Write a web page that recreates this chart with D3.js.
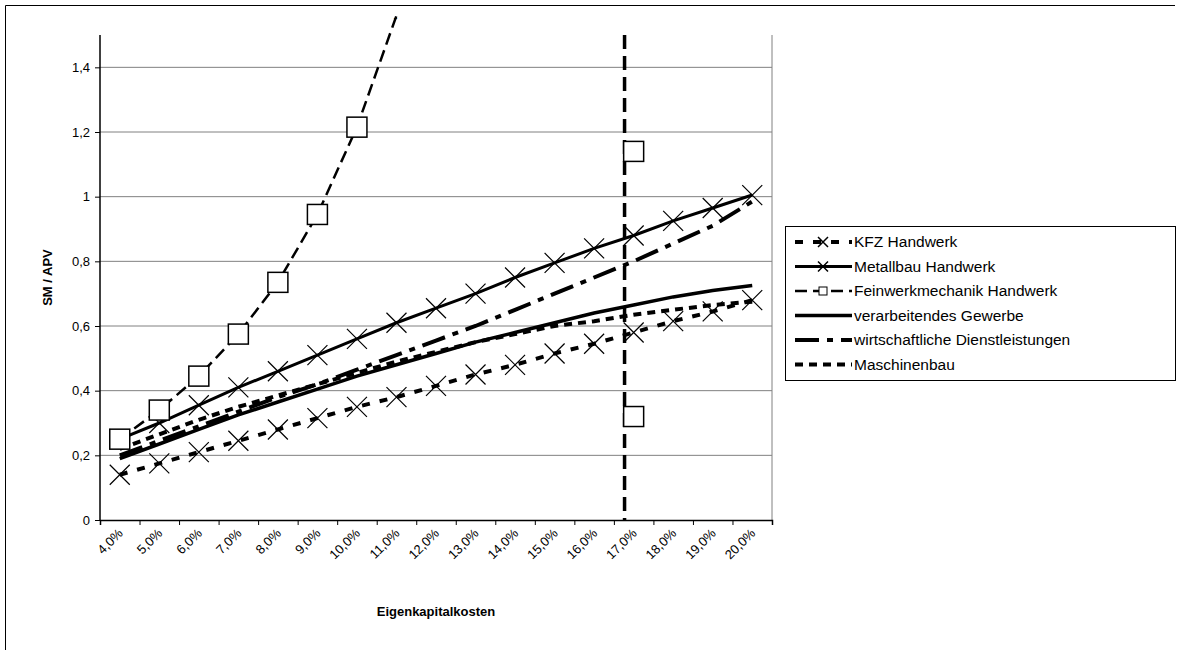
<!DOCTYPE html>
<html><head><meta charset="utf-8">
<script src="https://cdn.jsdelivr.net/npm/d3@7"></script>
<style>body{margin:0;background:#fff}svg{font-family:"Liberation Sans",Arial,sans-serif}</style>
</head><body><svg id="c" width="1179" height="650"></svg>
<script>
const categories = ['4,0%','5,0%','6,0%','7,0%','8,0%','9,0%','10,0%','11,0%','12,0%','13,0%','14,0%','15,0%','16,0%','17,0%','18,0%','19,0%','20,0%'];
const yTicks = [0, 0.2, 0.4, 0.6, 0.8, 1, 1.2, 1.4];
const kfz = [0.14,0.175,0.21,0.245,0.28,0.315,0.35,0.38,0.415,0.45,0.48,0.515,0.545,0.58,0.615,0.645,0.68];
const metallbau = [0.25,0.30,0.355,0.41,0.46,0.51,0.56,0.61,0.655,0.70,0.75,0.795,0.84,0.88,0.925,0.965,1.005];
const feinwerk = [0.25,0.34,0.445,0.575,0.735,0.945,1.215,1.56];
const feinwerkLate = [1.14, 0.32];      // squares at 17,0%
const feinwerkLateCat = '17,0%';
const feinwerkPole = 12.77;              // category index of the vertical jump
const verarbeitend = [0.19,0.235,0.28,0.325,0.365,0.405,0.445,0.48,0.515,0.55,0.58,0.61,0.64,0.665,0.69,0.71,0.725];
const dienst = [0.20,0.245,0.29,0.335,0.38,0.42,0.465,0.51,0.555,0.60,0.65,0.70,0.75,0.80,0.855,0.91,0.985];
const maschinenbau = [0.22,0.265,0.31,0.35,0.385,0.42,0.455,0.49,0.52,0.55,0.575,0.60,0.615,0.635,0.65,0.665,0.675];

const svg = d3.select('#c');
const L = 100, R = 772, T = 35, B = 520;
svg.append('path').attr('d','M5.5,650V5.5H1175').attr('fill','none').attr('stroke','#000');

const x = d3.scaleBand().domain(categories).range([L, R]);
const xi = i => L + x.step() * (i + 0.5);
const y = d3.scaleLinear().domain([0, 1.5]).range([B, T]);

const g = svg.append('g');
yTicks.filter(d => d > 0).forEach(d => g.append('line').attr('x1',L).attr('x2',R).attr('y1',y(d)).attr('y2',y(d)).attr('stroke','#808080'));
g.append('line').attr('x1',R).attr('x2',R).attr('y1',T).attr('y2',B).attr('stroke','#808080');

const yAx = svg.append('g').attr('transform',`translate(${L},0)`)
  .call(d3.axisLeft(y).tickValues(yTicks).tickSize(5).tickFormat(d => d === 0 ? '0' : d3.format('.1f')(d).replace('.', ',').replace(/^1,0$/,'1')));
const xAx = svg.append('g').attr('transform',`translate(0,${B})`)
  .call(d3.axisBottom(d3.scaleLinear().domain([0,17]).range([L,R])).ticks(17).tickSize(5).tickFormat(''));
[yAx, xAx].forEach(a => { a.select('.domain').attr('stroke','#000').attr('stroke-width',1.5); a.selectAll('line').attr('stroke','#000'); a.selectAll('text').attr('font-size',13).attr('fill','#000').attr('font-family','Liberation Sans'); });
yAx.selectAll('text').attr('dx', -2);
yAx.select('.domain').attr('d', `M0,${T}V${B}`);

categories.forEach((c, i) => {
  svg.append('text').attr('transform',`translate(${xi(i)+4},${B+14}) rotate(-45)`).attr('text-anchor','end')
    .attr('font-size',13).text(c);
});
svg.append('text').attr('transform',`translate(52,${(T+B)/2}) rotate(-90)`).attr('text-anchor','middle')
  .attr('font-size',13).attr('font-weight','bold').text('SM / APV');
svg.append('text').attr('x',(L+R)/2).attr('y',616).attr('text-anchor','middle')
  .attr('font-size',13).attr('font-weight','bold').text('Eigenkapitalkosten');

svg.append('clipPath').attr('id','clip').append('rect').attr('x',L).attr('y',T-20).attr('width',R-L).attr('height',B-T+20);
const plot = svg.append('g').attr('clip-path','url(#clip)');
const line = d3.line().x((d,i) => xi(i)).y(d => y(d));

const series = [
  {name:'KFZ Handwerk', data:kfz, dash:'8,10', w:4, marker:'x'},
  {name:'Metallbau Handwerk', data:metallbau, dash:null, w:3, marker:'x'},
  {name:'Feinwerkmechanik Handwerk', data:feinwerk, dash:'12,6', w:2.5, marker:'sq'},
  {name:'verarbeitendes Gewerbe', data:verarbeitend, dash:null, w:3.5, marker:null},
  {name:'wirtschaftliche Dienstleistungen', data:dienst, dash:'24,8,6,8', w:4, marker:null},
  {name:'Maschinenbau', data:maschinenbau, dash:'8,6', w:4, marker:null}
];
function marker(sel, type, cx, cy) {
  if (type === 'x') sel.append('path').attr('d',`M${cx-10},${cy-10}L${cx+10},${cy+10}M${cx-10},${cy+10}L${cx+10},${cy-10}`).attr('stroke','#000').attr('stroke-width',1.2);
  if (type === 'sq') sel.append('rect').attr('x',cx-10).attr('y',cy-10).attr('width',20).attr('height',20).attr('fill','#fff').attr('stroke','#000').attr('stroke-width',1.5);
}
series.forEach(s => {
  plot.append('path').attr('d', line(s.data)).attr('fill','none').attr('stroke','#000')
    .attr('stroke-width', s.w).attr('stroke-dasharray', s.dash);
});
plot.append('line').attr('x1',xi(feinwerkPole)).attr('x2',xi(feinwerkPole)).attr('y1',T).attr('y2',B)
  .attr('stroke','#000').attr('stroke-width',3.5).attr('stroke-dasharray','14,7');
series.forEach(s => { if (s.marker) s.data.forEach((d,i) => { if (d <= 1.5) marker(plot, s.marker, xi(i), y(d)); }); });
feinwerkLate.forEach(d => marker(plot, 'sq', xi(categories.indexOf(feinwerkLateCat)), y(d)));
svg.append('text').attr('x',xi(7)-3).attr('y',22).attr('font-size',12).text('-');

const lg = svg.append('g');
lg.append('rect').attr('x',785.5).attr('y',226.5).attr('width',390).attr('height',154).attr('fill','#fff').attr('stroke','#000');
series.forEach((s, i) => {
  const yy = 242 + i * 24.5;
  lg.append('line').attr('x1',795).attr('x2',852).attr('y1',yy).attr('y2',yy).attr('stroke','#000')
    .attr('stroke-width', s.w).attr('stroke-dasharray', s.dash);
  if (s.marker === 'x') lg.append('path').attr('d',`M818,${yy-5}L828,${yy+5}M818,${yy+5}L828,${yy-5}`).attr('stroke','#000').attr('stroke-width',1.5);
  if (s.marker === 'sq') lg.append('rect').attr('x',819).attr('y',yy-4).attr('width',8).attr('height',8).attr('fill','#fff').attr('stroke','#000');
  lg.append('text').attr('x',854).attr('y',yy+5).attr('font-size',15.5).text(s.name);
});
</script></body></html>
